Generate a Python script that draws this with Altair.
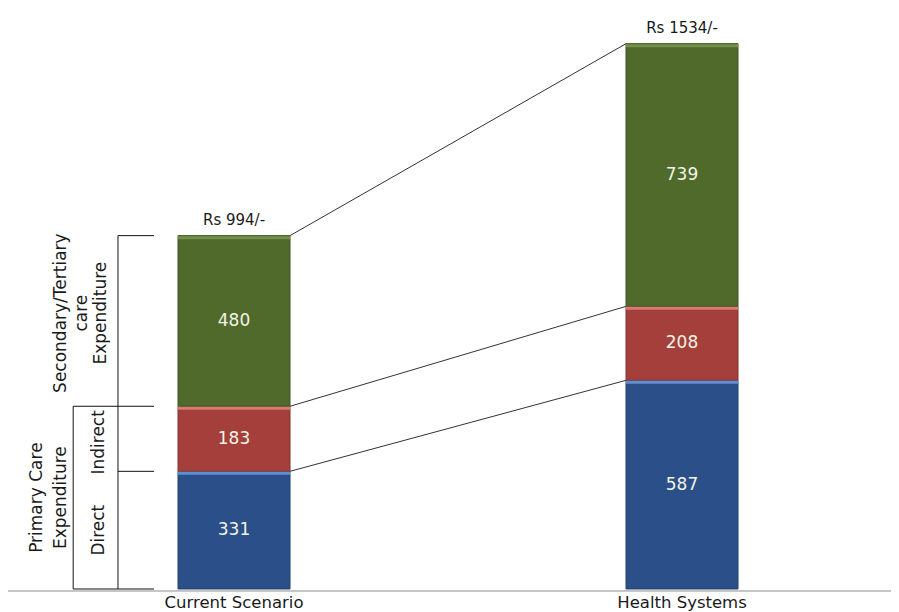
import altair as alt
import pandas as pd

# ---- data ----
scenarios = ["Current Scenario", "Health Systems"]
components = ["Direct", "Indirect", "Secondary/Tertiary"]
direct = [331, 587]
indirect = [183, 208]
secondary = [480, 739]
total_labels = ["Rs 994/-", "Rs 1534/-"]

# ---- styles ----
fill_colors = ["#2b4f88", "#a43f3b", "#4f6a2b"]
edge_colors = ["#5f8fd2", "#d97a70", "#73904a"]
side_colors = ["#22406f", "#86322f", "#3f5522"]
FONT = "DejaVu Sans"
HW = 0.125                      # half bar width in x units
W, H = 883, 604
X_DOMAIN = [-0.5045, 1.4665]
Y_DOMAIN = [-64.7, 1634.3]

xs = alt.Scale(domain=X_DOMAIN, nice=False, zero=False)
ys = alt.Scale(domain=Y_DOMAIN, nice=False, zero=False)

# ---- segment table ----
rows = []
series = [direct, indirect, secondary]
for i, s in enumerate(scenarios):
    base = 0
    for k, c in enumerate(components):
        v = series[k][i]
        rows.append(dict(scenario=s, idx=i, component=c, value=v,
                         y0=base, y1=base + v, ymid=base + v / 2,
                         xl=i - HW, xr=i + HW,
                         fillc=fill_colors[k], edgec=edge_colors[k],
                         sidec=side_colors[k]))
        base += v
seg = pd.DataFrame(rows)

tot = seg.groupby(["idx", "scenario"], as_index=False)["y1"].max()
tot["label"] = total_labels
tot["zero"] = 0

# connectors between cumulative tops
left = seg[seg.idx == 0].reset_index(drop=True)
right = seg[seg.idx == 1].reset_index(drop=True)
conn = pd.DataFrame({
    "component": left.component,
    "xa": left.xr, "xb": right.xl,
    "ya": left.y1, "yb": right.y1,
})

# brackets on the left of the first bar
c_direct = float(left.y1[0])
c_indirect = float(left.y1[1])
c_total = float(left.y1[2])
OUT, INN, TEND = -0.259, -0.359, -0.1786
brk = pd.DataFrame([
    dict(bx=OUT, bx2=OUT, by=0.0, by2=c_total),
    dict(bx=INN, bx2=INN, by=0.0, by2=c_indirect),
    dict(bx=OUT, bx2=TEND, by=c_total, by2=c_total),
    dict(bx=INN, bx2=TEND, by=c_indirect, by2=c_indirect),
    dict(bx=OUT, bx2=TEND, by=c_direct, by2=c_direct),
    dict(bx=INN, bx2=TEND, by=0.0, by2=0.0),
])
sec_mid = (c_indirect + c_total) / 2 + 22
ind_mid = (c_direct + c_indirect) / 2 - 10
blab = pd.DataFrame([
    dict(label="Secondary/Tertiary", lx=-0.386, ly=sec_mid),
    dict(label="care", lx=-0.339, ly=sec_mid),
    dict(label="Expenditure", lx=-0.296, ly=sec_mid),
    dict(label="Primary Care", lx=-0.440, ly=c_indirect / 2),
    dict(label="Expenditure", lx=-0.386, ly=c_indirect / 2),
    dict(label="Indirect", lx=-0.301, ly=ind_mid),
    dict(label="Direct", lx=-0.301, ly=c_direct / 2),
])

base_df = pd.DataFrame({"zy": [0.0]})

bars = alt.Chart(seg).mark_rect(strokeWidth=1).encode(
    x=alt.X("xl:Q", scale=xs, axis=None), x2="xr:Q",
    y=alt.Y("y0:Q", scale=ys, axis=None), y2="y1:Q",
    color=alt.Color("fillc:N", scale=None),
    stroke=alt.Stroke("sidec:N", scale=None),
)
edges = alt.Chart(seg).mark_rule(strokeWidth=3, yOffset=2).encode(
    x=alt.X("xl:Q", scale=xs, axis=None), x2="xr:Q",
    y=alt.Y("y1:Q", scale=ys, axis=None),
    color=alt.Color("edgec:N", scale=None),
)
vals = alt.Chart(seg).mark_text(font=FONT, fontSize=17, color="#f3f3e6", baseline="middle").encode(
    x=alt.X("idx:Q", scale=xs, axis=None), y=alt.Y("ymid:Q", scale=ys, axis=None), text="value:Q",
)
tots = alt.Chart(tot).mark_text(font=FONT, fontSize=15, color="#1a1a1a", baseline="middle", dy=-16).encode(
    x=alt.X("idx:Q", scale=xs, axis=None), y=alt.Y("y1:Q", scale=ys, axis=None), text="label:N",
)
cats = alt.Chart(tot).mark_text(font=FONT, fontSize=16.5, color="#1a1a1a", baseline="alphabetic", dy=19).encode(
    x=alt.X("idx:Q", scale=xs, axis=None), y=alt.Y("zero:Q", scale=ys, axis=None), text="scenario:N",
)
conns = alt.Chart(conn).mark_rule(color="#333333", strokeWidth=1).encode(
    x=alt.X("xa:Q", scale=xs, axis=None), x2="xb:Q",
    y=alt.Y("ya:Q", scale=ys, axis=None), y2="yb:Q",
)
brackets = alt.Chart(brk).mark_rule(color="#111111", strokeWidth=1).encode(
    x=alt.X("bx:Q", scale=xs, axis=None), x2="bx2:Q",
    y=alt.Y("by:Q", scale=ys, axis=None), y2="by2:Q",
)
blabels = alt.Chart(blab).mark_text(font=FONT, fontSize=17, color="#1a1a1a", angle=270,
                                    baseline="middle", align="center").encode(
    x=alt.X("lx:Q", scale=xs, axis=None), y=alt.Y("ly:Q", scale=ys, axis=None), text="label:N",
)
baseline = alt.Chart(base_df).mark_rule(color="#8c8c8c", strokeWidth=1, yOffset=2).encode(
    y=alt.Y("zy:Q", scale=ys, axis=None),
)

chart = alt.layer(
    baseline, conns, brackets, bars, edges, vals, tots, cats, blabels
).properties(
    width=W, height=H, padding=0,
    autosize=alt.AutoSizeParams(type="none"),
    background="white",
).configure_view(stroke=None)

chart.save("out.html", embed_options={"renderer": "svg", "actions": False})
